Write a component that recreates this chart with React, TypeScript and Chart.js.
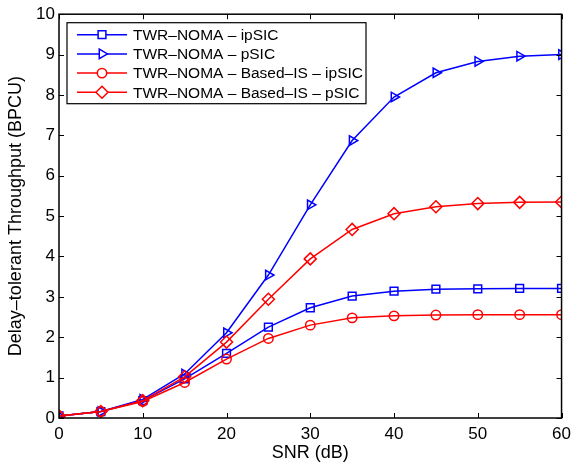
import React, { useEffect, useRef } from "react";
import { Chart, registerables } from "chart.js";
import { drawPoint } from "chart.js/helpers";

Chart.register(...registerables);

const snr = [0, 5, 10, 15, 20, 25, 30, 35, 40, 45, 50, 55, 60];
const twrIpSIC = [0.05, 0.16, 0.43, 0.97, 1.6, 2.25, 2.73, 3.02, 3.14, 3.19, 3.2, 3.21, 3.21];
const twrPSIC = [0.05, 0.16, 0.46, 1.09, 2.11, 3.54, 5.28, 6.87, 7.95, 8.55, 8.83, 8.96, 9.0];
const isIpSIC = [0.05, 0.16, 0.41, 0.88, 1.46, 1.97, 2.3, 2.48, 2.53, 2.55, 2.56, 2.56, 2.56];
const isPSIC = [0.05, 0.16, 0.43, 1.02, 1.88, 2.94, 3.94, 4.67, 5.06, 5.23, 5.31, 5.34, 5.35];

const seriesLabels = [
  "TWR\u2013NOMA \u2013 ipSIC",
  "TWR\u2013NOMA \u2013 pSIC",
  "TWR\u2013NOMA \u2013 Based\u2013IS \u2013 ipSIC",
  "TWR\u2013NOMA \u2013 Based\u2013IS \u2013 pSIC",
];
const xTitle = "SNR (dB)";
const yTitle = "Delay\u2013tolerant Throughput (BPCU)";

const BLUE = "rgb(0,0,255)";
const RED = "rgb(255,0,0)";
const FONT = "'Liberation Sans', Arial, sans-serif";

const styles = [
  { color: BLUE, pointStyle: "rect", radius: 5.5, rotation: 0 },
  { color: BLUE, pointStyle: "triangle", radius: 5.5, rotation: 90 },
  { color: RED, pointStyle: "circle", radius: 4.7, rotation: 0 },
  { color: RED, pointStyle: "rectRot", radius: 6, rotation: 0 },
];

const framePlugin = {
  id: "matlabFrame",
  afterDatasetsDraw(chart: any) {
    const { ctx, chartArea } = chart;
    const { left, right, top, bottom } = chartArea;
    const xs = chart.scales.x;
    const ys = chart.scales.y;
    ctx.save();
    ctx.strokeStyle = "#000";
    ctx.lineWidth = 1.5;
    ctx.strokeRect(left, top, right - left, bottom - top);
    ctx.lineWidth = 1;
    const tl = 5;
    ctx.beginPath();
    xs.ticks.forEach((t: any) => {
      const px = Math.round(xs.getPixelForValue(t.value)) + 0.5;
      ctx.moveTo(px, bottom);
      ctx.lineTo(px, bottom - tl);
      ctx.moveTo(px, top);
      ctx.lineTo(px, top + tl);
    });
    ys.ticks.forEach((t: any) => {
      const py = Math.round(ys.getPixelForValue(t.value)) + 0.5;
      ctx.moveTo(left, py);
      ctx.lineTo(left + tl, py);
      ctx.moveTo(right, py);
      ctx.lineTo(right - tl, py);
    });
    ctx.stroke();

    // legend
    const lx = left + 8;
    const ly = top + 8.5;
    const lw = 299;
    const lh = 81;
    ctx.fillStyle = "#fff";
    ctx.fillRect(lx, ly, lw, lh);
    ctx.lineWidth = 1.2;
    ctx.strokeStyle = "#000";
    ctx.strokeRect(lx, ly, lw, lh);
    ctx.font = "15.5px " + FONT;
    ctx.textBaseline = "middle";
    ctx.textAlign = "left";
    seriesLabels.forEach((lab, i) => {
      const y = ly + 12 + i * 19.2;
      const st = styles[i];
      ctx.strokeStyle = st.color;
      ctx.lineWidth = 1.5;
      ctx.beginPath();
      ctx.moveTo(lx + 10, y);
      ctx.lineTo(lx + 60, y);
      ctx.stroke();
      ctx.fillStyle = "#fff";
      ctx.strokeStyle = st.color;
      ctx.lineWidth = 1.5;
      drawPoint(
        ctx,
        { pointStyle: st.pointStyle, radius: st.radius, rotation: st.rotation, borderWidth: 1.5 } as any,
        lx + 35,
        y
      );
      ctx.fillStyle = "#000";
      ctx.fillText(lab, lx + 66, y + 1);
    });
    ctx.restore();
  },
};

export default function App() {
  const ref = useRef<HTMLCanvasElement>(null);
  useEffect(() => {
    if (!ref.current) return;
    const series = [twrIpSIC, twrPSIC, isIpSIC, isPSIC];
    const chart = new Chart(ref.current, {
      type: "line",
      data: {
        datasets: series.map((vals, i) => ({
          label: seriesLabels[i],
          data: snr.map((x, j) => ({ x, y: vals[j] })),
          borderColor: styles[i].color,
          backgroundColor: "rgba(0,0,0,0)",
          borderWidth: 1.5,
          pointStyle: styles[i].pointStyle as any,
          pointRadius: styles[i].radius,
          pointRotation: styles[i].rotation,
          pointBorderWidth: 1.5,
          pointBorderColor: styles[i].color,
          pointBackgroundColor: "rgba(0,0,0,0)",
          tension: 0,
          fill: false,
          order: 3 - i,
        })),
      },
      options: {
        animation: false,
        responsive: false,
        devicePixelRatio: 1,
        layout: { padding: { top: 13, right: 11, bottom: 0, left: 0 } },
        plugins: { legend: { display: false }, tooltip: { enabled: false } },
        scales: {
          x: {
            type: "linear",
            min: 0,
            max: 60,
            grid: { display: false, drawTicks: false },
            border: { display: false },
            ticks: { stepSize: 10, color: "#000", padding: 6, font: { family: FONT, size: 17 }, maxRotation: 0 },
            title: { display: true, text: xTitle, color: "#000", font: { family: FONT, size: 18 }, padding: { top: 0, bottom: 4 } },
            afterFit: (s: any) => {
              s.height = 50;
            },
          },
          y: {
            type: "linear",
            min: 0,
            max: 10,
            grid: { display: false, drawTicks: false },
            border: { display: false },
            ticks: { stepSize: 1, color: "#000", padding: 4, font: { family: FONT, size: 17 } },
            title: { display: true, text: yTitle, color: "#000", font: { family: FONT, size: 18 }, padding: { top: 5, bottom: 0 } },
            afterFit: (s: any) => {
              s.width = 59;
            },
          },
        },
      },
      plugins: [framePlugin],
    });
    return () => chart.destroy();
  }, []);
  return (
    <div style={{ position: "fixed", left: 0, top: 0, width: 577, height: 468, background: "#fff" }}>
      <canvas ref={ref} width={577} height={468} style={{ width: 577, height: 468 }} />
    </div>
  );
}
